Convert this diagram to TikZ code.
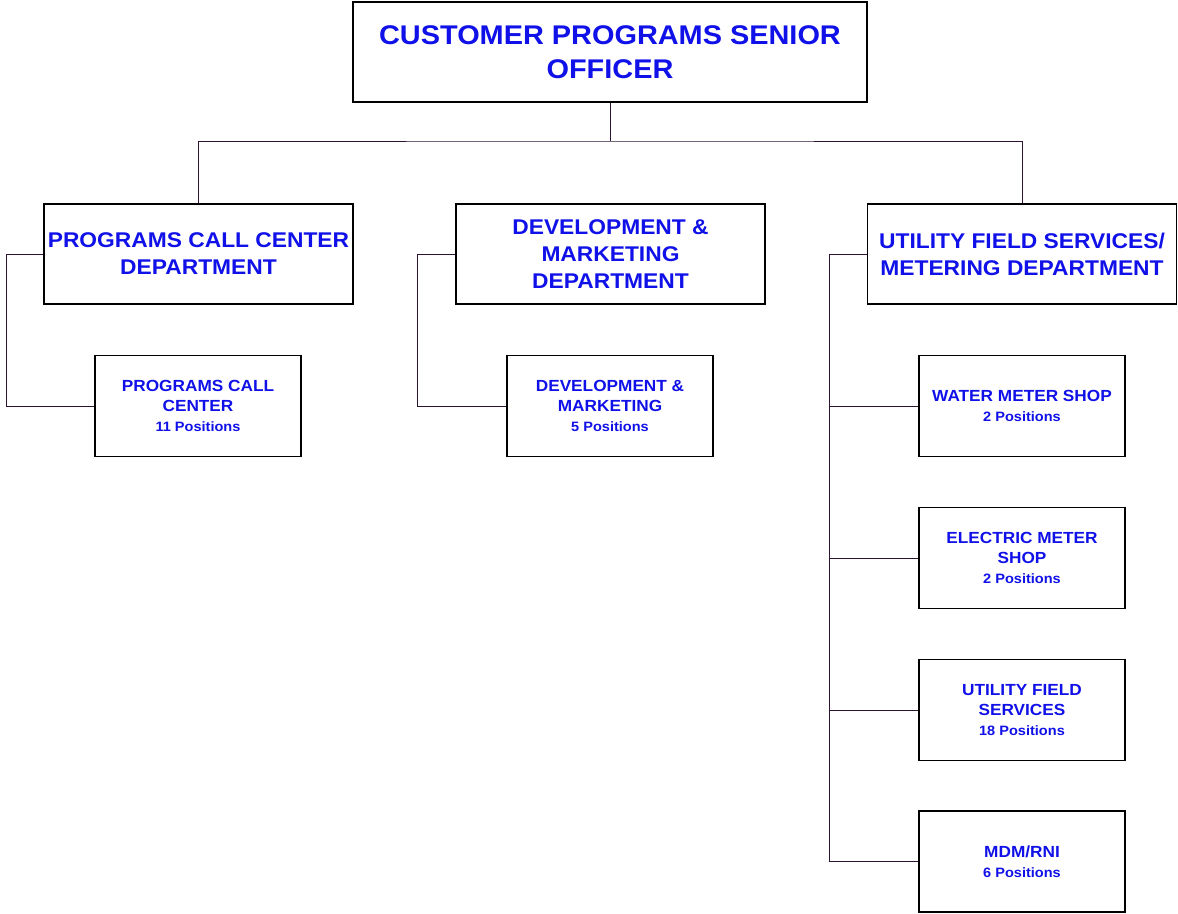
\documentclass[tikz,border=0pt]{standalone}
\usepackage{fontspec}
\setmainfont{Liberation Sans}[FakeStretch=1.07]
\definecolor{txtblue}{RGB}{16,16,232}
\definecolor{linec}{RGB}{45,20,50}
\begin{document}
\begin{tikzpicture}[x=1pt,y=-1pt,
  box/.style={draw=black, line width=1.9pt, rectangle, inner sep=0pt, text=txtblue, align=center, font=\bfseries},
  topbox/.style={box, minimum width=514pt, minimum height=100pt, font=\bfseries\fontsize{27}{34}\selectfont},
  deptbox/.style={box, minimum width=309pt, minimum height=100pt, font=\bfseries\fontsize{21.3}{27}\selectfont},
  unitbox/.style={box, minimum width=206pt, minimum height=101pt, font=\bfseries\fontsize{16.1}{20}\selectfont},
  conn/.style={draw=linec, line width=1pt}]
\useasboundingbox (0,0) rectangle (1178,913);
\newcommand{\posn}[1]{{\fontsize{13.6}{19}\selectfont #1}}
\node[topbox] (top) at (610,52) {CUSTOMER PROGRAMS SENIOR\\OFFICER};
\node[deptbox] (pcc) at (198.5,254) {PROGRAMS CALL CENTER\\DEPARTMENT};
\node[deptbox] (dm) at (610.5,254) {DEVELOPMENT \&\\MARKETING\\DEPARTMENT};
\node[deptbox] (ufs) at (1022,254) {UTILITY FIELD SERVICES/\\METERING DEPARTMENT};
\node[unitbox] (pccu) at (198,406) {PROGRAMS CALL\\CENTER\\\posn{11 Positions}};
\node[unitbox] (dmu) at (610,406) {DEVELOPMENT \&\\MARKETING\\\posn{5 Positions}};
\node[unitbox] (wms) at (1022,406) {WATER METER SHOP\\\posn{2 Positions}};
\node[unitbox] (ems) at (1022,558) {ELECTRIC METER\\SHOP\\\posn{2 Positions}};
\node[unitbox] (ufsu) at (1022,710) {UTILITY FIELD\\SERVICES\\\posn{18 Positions}};
\node[unitbox] (mdm) at (1022,861.5) {MDM/RNI\\\posn{6 Positions}};
\coordinate (bus) at (610,141);
\draw[conn] (top.south) -- (bus);
\draw[conn] (pcc.north) |- (bus) -| (ufs.north);
\coordinate (lp) at (6,254);
\coordinate (ld) at (417,254);
\coordinate (lu) at (829,254);
\draw[conn] (pcc.west) -- (lp) |- (pccu.west);
\draw[conn] (dm.west) -- (ld) |- (dmu.west);
\draw[conn] (ufs.west) -- (lu) |- (mdm.west);
\draw[conn] (lu |- wms.west) -- (wms.west);
\draw[conn] (lu |- ems.west) -- (ems.west);
\draw[conn] (lu |- ufsu.west) -- (ufsu.west);
\end{tikzpicture}
\end{document}
